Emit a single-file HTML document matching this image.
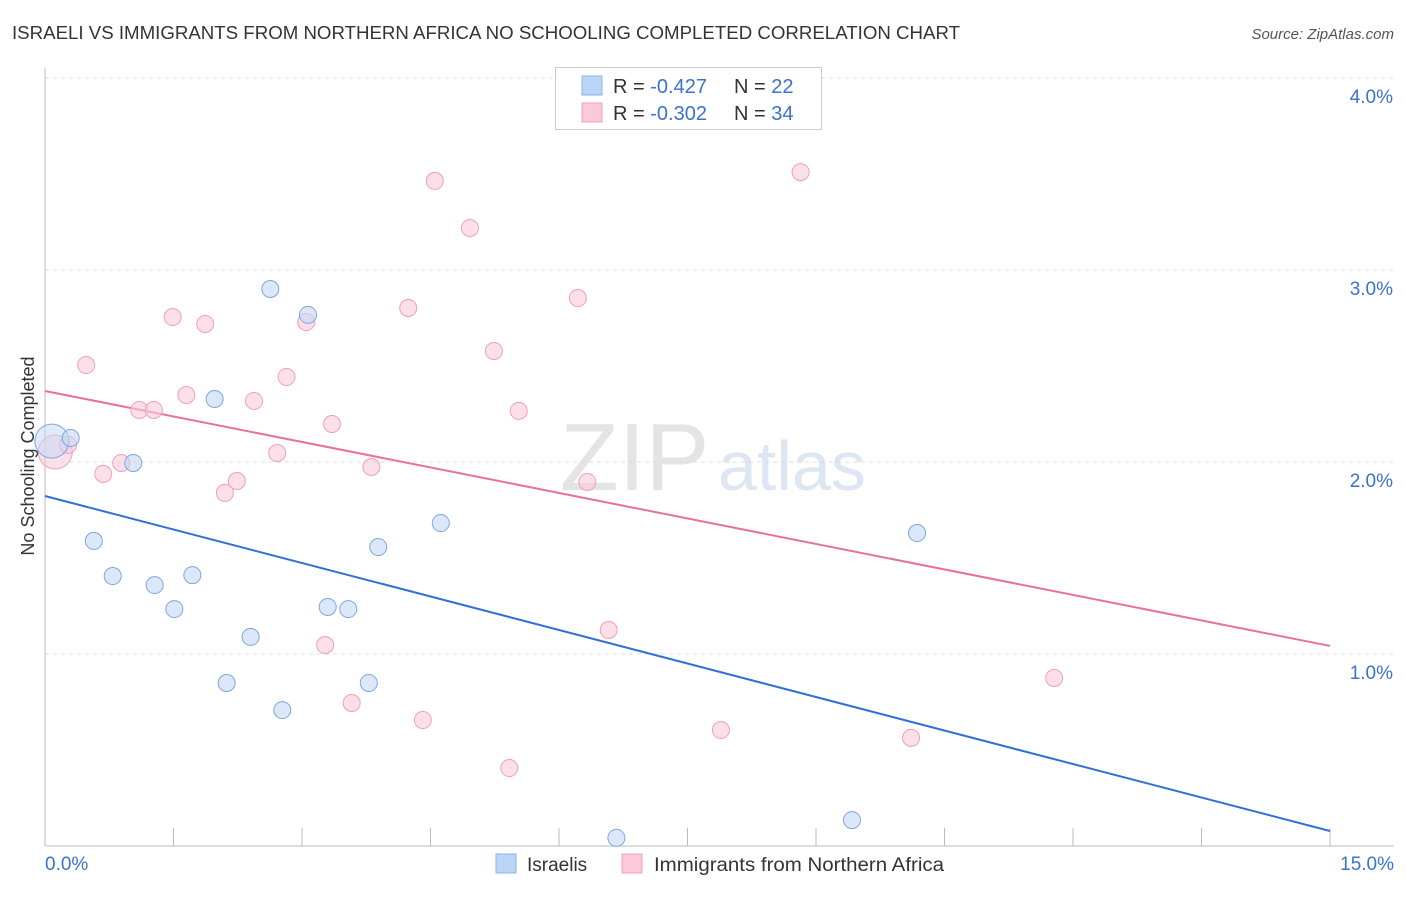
<!DOCTYPE html>
<html><head><meta charset="utf-8"><style>
body{margin:0;background:#fff;font-family:"Liberation Sans",sans-serif;}
svg text{font-family:"Liberation Sans",sans-serif;}
</style></head><body>
<svg id="chart" width="1406" height="892" xmlns="http://www.w3.org/2000/svg">
<text x="12" y="39" font-size="18" fill="#333" textLength="948" lengthAdjust="spacingAndGlyphs">ISRAELI VS IMMIGRANTS FROM NORTHERN AFRICA NO SCHOOLING COMPLETED CORRELATION CHART</text>
<text x="1394" y="39" font-size="15" fill="#555" font-style="italic" text-anchor="end">Source: ZipAtlas.com</text>
<text x="560" y="490" font-size="96" fill="#e4e4e4" font-family="Liberation Serif">ZIP</text>
<text x="718" y="490" font-size="70" fill="#dde6f3">atlas</text>
<g id="grid"></g>
<g id="axes"></g>
<g id="lines"></g>
<g id="points"></g>
<text transform="translate(34,456) rotate(-90)" font-size="18" fill="#333" text-anchor="middle">No Schooling Completed</text>
<g>
<rect x="555.5" y="67.5" width="266" height="62" fill="#fff" stroke="#ccc"/>
<rect x="582" y="76" width="20" height="19" fill="#bcd4f5" stroke="#8ab4e8"/>
<rect x="582" y="103" width="20" height="19" fill="#fbc9d8" stroke="#f0a0b8"/>
<text x="613" y="93" font-size="20" fill="#333">R = <tspan fill="#3a72d0">-0.427</tspan><tspan x="734">N = </tspan><tspan fill="#3a72d0">22</tspan></text>
<text x="613" y="120" font-size="20" fill="#333">R = <tspan fill="#3a72d0">-0.302</tspan><tspan x="734">N = </tspan><tspan fill="#3a72d0">34</tspan></text>
</g>
<g>
<rect x="496" y="854" width="20" height="19" fill="#bcd4f5" stroke="#8ab4e8"/>
<text x="527" y="871" font-size="19" fill="#333">Israelis</text>
<rect x="622" y="854" width="20" height="19" fill="#fbc9d8" stroke="#f0a0b8"/>
<text x="654" y="871" font-size="19" fill="#333" textLength="290" lengthAdjust="spacingAndGlyphs">Immigrants from Northern Africa</text>
</g>
</svg>
<script>
const yTicks=[1,2,3,4];
const yTickLabels=["1.0%","2.0%","3.0%","4.0%"];
const xEndLabels=["0.0%","15.0%"];
const blueX=[0.08,0.30,1.03,0.57,0.79,1.28,1.51,1.72,1.98,2.12,2.40,2.63,2.77,3.07,3.30,3.54,3.78,3.89,4.62,6.67,9.42,10.18];
const blueY=[2.109,2.125,1.995,1.589,1.406,1.359,1.234,1.411,2.328,0.849,1.089,2.901,0.708,2.766,1.245,1.234,0.849,1.557,1.682,0.042,0.135,1.630];
const pinkX=[0.12,0.27,0.48,0.68,0.89,1.10,1.27,1.49,1.65,1.87,2.10,2.24,2.44,2.71,2.82,3.05,3.27,3.35,3.58,3.81,4.24,4.41,4.55,4.96,5.24,5.42,5.53,6.22,6.33,6.58,7.89,8.82,10.11,11.78];
const pinkY=[2.052,2.089,2.505,1.938,1.995,2.271,2.271,2.755,2.349,2.719,1.839,1.901,2.318,2.047,2.443,2.729,1.047,2.198,0.745,1.974,2.802,0.656,3.464,3.219,2.578,0.406,2.266,2.854,1.896,1.125,0.604,3.510,0.563,0.875];
const blueTrend=[1.823,0.078];
const pinkTrend=[2.370,1.042];
const NS="http://www.w3.org/2000/svg";
const X=v=>45+v*(1285/15), Y=v=>846-v*192;
function mk(t,a,p){const e=document.createElementNS(NS,t);for(const k in a)e.setAttribute(k,a[k]);document.getElementById(p).appendChild(e);return e;}
yTicks.forEach((t,i)=>{
 const g=mk('line',{x1:45,x2:1394,y1:Y(t),y2:Y(t),stroke:'#ddd','stroke-dasharray':'4,4'},'grid');
 
 
 const l=mk('text',{x:1393,y:Y(t)+25,'font-size':19,fill:'#3a72d0','text-anchor':'end'},'grid');l.textContent=yTickLabels[i];
 
 
});
const ax=mk('line',{x1:45,x2:45,y1:68,y2:846,stroke:'#bbb'},'axes');


const bx=mk('line',{x1:45,x2:1394,y1:846,y2:846,stroke:'#bbb'},'axes');


for(let i=1;i<=10;i++){const t=mk('line',{x1:X(i*1.5),x2:X(i*1.5),y1:828,y2:846,stroke:'#bbb'},'axes');
 
 }
[[0,'start',45],[15,'end',1394]].forEach((d,i)=>{const t=mk('text',{x:d[2],y:870,'font-size':19,fill:'#3a72d0','text-anchor':d[1]},'axes');t.textContent=xEndLabels[i];
 
 });
function pts(xs,ys,fill,stroke,name){xs.forEach((x,i)=>{const big=i===0;const c=mk('circle',{cx:X(x),cy:Y(ys[i]),r:big?17:8.5,fill:fill,'fill-opacity':big?0.55:0.6,stroke:stroke,'stroke-width':1},'points');
 
 });}
pts(pinkX,pinkY,'#fbc9d8','#f0a0b8','pink-point');
pts(blueX,blueY,'#c5d9f5','#7aa8e2','blue-point');
const bl=mk('line',{x1:X(0),y1:Y(blueTrend[0]),x2:X(15),y2:Y(blueTrend[1]),stroke:'#2f6fd6','stroke-width':2},'lines');


const pl=mk('line',{x1:X(0),y1:Y(pinkTrend[0]),x2:X(15),y2:Y(pinkTrend[1]),stroke:'#e8709a','stroke-width':2},'lines');


</script>
</body></html>
